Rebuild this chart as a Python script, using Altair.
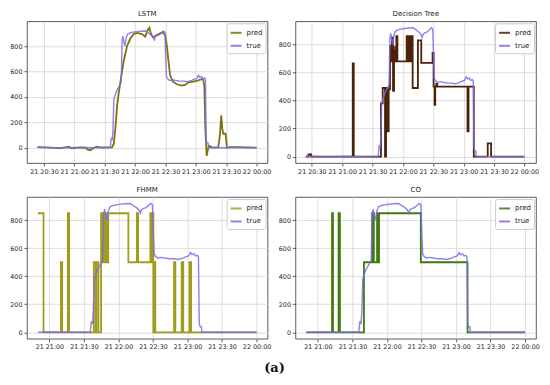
import altair as alt
import pandas as pd

BASE = pd.Timestamp("2020-01-21 20:00:00")  # times below are minutes after 21 20:00

# ---------------- ground truth (shared by all four panels) ----------------
true_m = [24, 38, 50, 62, 80, 95.5, 96.5, 97.5, 98.2, 99, 100.5, 102, 104, 105.5, 106.3,
          107.2, 108, 109, 110, 111, 112.5, 115, 118, 122, 126, 130, 132, 134.5, 136.5, 138,
          139, 140, 142, 144, 146, 148, 149.5, 150.3, 151, 152, 154, 157, 160, 164, 168,
          172, 176, 179, 181, 182.5, 184, 185.5, 187, 188.5, 189.5, 190.2, 191, 192, 192.5,
          200, 240]
true_v = [3, 0, 0, 2, 0, 0, 80, 60, 150, 380, 420, 450, 480, 500, 520,
          850, 880, 830, 800, 860, 895, 905, 910, 915, 918, 920, 910, 895, 885, 870,
          850, 875, 885, 890, 905, 920, 910, 700, 560, 545, 530, 535, 530, 525, 525,
          520, 530, 540, 545, 570, 555, 560, 545, 550, 540, 60, 40, 40, 0,
          0, 0]

# ---------------- LSTM prediction ----------------
lstm_m = [23.4, 36.6, 46.4, 54.6, 56.9, 66, 71, 73.3, 75.9, 79.2, 82.5, 85.8, 97.2, 98.9,
          100.5, 102.2, 103.8, 106.1, 108.7, 112, 115.3, 118.6, 121.8, 126.8, 130, 132, 134,
          135.6, 137.6, 139.9, 143.2, 147.1, 149.7, 151.4, 153, 154.6, 157.3, 161.2, 166.1,
          169.4, 172.7, 177.6, 182.5, 185.8, 187.4, 188.4, 189.4, 190.7, 192, 193.3, 195.6,
          198.9, 202.2, 203.8, 205.1, 206.1, 207.1, 209.4, 210.7, 213.7, 223.5, 240]
lstm_v = [5, 0, -3, 8, -5, 2, 0, -15, -20, 0, 8, 3, 3, 30,
          150, 330, 430, 550, 680, 800, 860, 895, 905, 895, 875, 920, 945,
          900, 870, 880, 895, 910, 890, 800, 680, 570, 520, 500, 490,
          495, 515, 520, 530, 540, 535, 480, 150, -65, -10, 15, 5,
          0, 5, 100, 255, 150, 110, 110, 0, 5, 5, 0]

# ---------------- Decision Tree prediction (step changes) ----------------
dt_m = [24.1, 26.7, 29.3, 70.4, 71.4, 98.3, 100, 102.3, 103.3, 104.9, 105.9, 107.2, 108.2,
        109.2, 110.2, 111.2, 112.2, 113.5, 114.5, 123.7, 125, 126, 127.3, 128.3, 129.6,
        134.8, 138.1, 149.3, 150.3, 151.3, 151.9, 152.9, 153.9, 183.8, 184.8, 190,
        203.8, 207.1, 240]
dt_v = [0, 15, 0, 665, 0, 380, 490, 0, 490, 180, 480, 790, 680,
        850, 470, 760, 680, 860, 680, 860, 680, 860, 680, 860, 490,
        830, 670, 740, 500, 370, 500, 520, 500, 180, 500, 0,
        95, 0, 0]
# dense flicker bands of the decision tree output
osc_start = [108.0, 123.7]
osc_end = [114.5, 129.4]
osc_low = [680, 680]
osc_high = [790, 860]

# ---------------- FHMM prediction (step changes) ----------------
fhmm_m = [50, 54.9, 70, 71.1, 76, 77.1, 98.6, 100.3, 100.9, 102.6, 104.9, 106.3, 107.1,
          108.3, 109.1, 110, 111.1, 128.6, 136, 137.1, 147.7, 148.9, 149.7, 150.3, 150.9,
          152, 168.3, 169.4, 174.9, 176.3, 181.7, 183.1, 240]
fhmm_v = [850, 0, 500, 0, 850, 0, 500, 0, 500, 0, 850, 500, 850,
          500, 850, 500, 850, 500, 850, 500, 850, 500, 850, 0, 500,
          0, 500, 0, 500, 0, 500, 0, 0]

# ---------------- CO prediction (step changes) ----------------
co_m = [50, 72.3, 73.1, 78, 79.1, 100, 107.1, 108.6, 111.4, 112.3, 113.1, 149.4, 190, 240]
co_v = [0, 850, 0, 850, 0, 500, 850, 500, 850, 500, 850, 500, 0, 0]

y_ticks = [0, 200, 400, 600, 800]
ticks_top = [30, 60, 90, 120, 150, 180, 210, 240]
ticks_bottom = [60, 90, 120, 150, 180, 210, 240]

TRUE_COLOR = "#7b68ee"


def to_dt(m):
    t = BASE + pd.Timedelta(minutes=m)
    return alt.DateTime(year=t.year, month=t.month, date=t.day,
                        hours=t.hour, minutes=t.minute, seconds=t.second)


def frame(ms, vs, name):
    return pd.DataFrame({
        "time": BASE + pd.to_timedelta(ms, unit="min"),
        "value": vs,
        "series": name,
    })


def panel(title, pm, pv, pcolor, interp, start, xdom, ydom, ticks, osc=False):
    tm = [m for m in true_m if m >= start]
    tv = [v for m, v in zip(true_m, true_v) if m >= start]
    pred_df = frame(pm, pv, "pred")
    true_df = frame(tm, tv, "true")

    x = alt.X("time:T",
              scale=alt.Scale(domain=[to_dt(xdom[0]), to_dt(xdom[1])]),
              axis=alt.Axis(values=[to_dt(t) for t in ticks], format="%d %H:%M",
                            title=None, labelFlush=False, labelOverlap=False))
    y = alt.Y("value:Q",
              scale=alt.Scale(domain=ydom, nice=False, zero=False),
              axis=alt.Axis(values=y_ticks, title=None))
    color = alt.Color("series:N",
                      scale=alt.Scale(domain=["pred", "true"], range=[pcolor, TRUE_COLOR]),
                      legend=alt.Legend(title=None, orient="top-right"))

    layers = []
    if osc:
        osc_df = pd.DataFrame({
            "time": BASE + pd.to_timedelta(osc_start, unit="min"),
            "time2": BASE + pd.to_timedelta(osc_end, unit="min"),
            "lo": osc_low,
            "hi": osc_high,
        })
        layers.append(
            alt.Chart(osc_df).mark_rect(color="#a10000", opacity=0.8).encode(
                x=x, x2="time2:T", y=alt.Y("lo:Q", scale=alt.Scale(domain=ydom, nice=False, zero=False),
                                          axis=alt.Axis(values=y_ticks, title=None)),
                y2="hi:Q")
        )
    layers.append(
        alt.Chart(pred_df).mark_line(interpolate=interp, strokeWidth=1.8).encode(
            x=x, y=y, color=color)
    )
    layers.append(
        alt.Chart(true_df).mark_line(strokeWidth=1.4, opacity=0.85).encode(
            x=x, y=y, color=color)
    )
    return alt.layer(*layers).properties(
        width=241, height=142,
        title=alt.TitleParams(title, fontSize=7, fontWeight="normal", color="#222", offset=4),
    )


lstm = panel("LSTM", lstm_m, lstm_v, "#7d7308", "linear", 24,
             (13.2, 250.8), [-121, 996], ticks_top)
dtree = panel("Decision Tree", dt_m, dt_v, "#4b2208", "step-after", 24,
              (13.8, 251.5), [-46, 966], ticks_top, osc=True)
fhmm = panel("FHMM", fhmm_m, fhmm_v, "#a09c1e", "step-after", 50,
             (40.5, 249.5), [-46, 966], ticks_bottom)
co = panel("CO", co_m, co_v, "#3f7a0c", "step-after", 50,
           (40.5, 249.5), [-46, 966], ticks_bottom)

top = alt.hconcat(lstm, dtree, spacing=6).resolve_scale(
    color="independent", x="independent", y="independent").resolve_legend(color="independent")
bottom = alt.hconcat(fhmm, co, spacing=6).resolve_scale(
    color="independent", x="independent", y="independent").resolve_legend(color="independent")

chart = alt.vconcat(top, bottom, spacing=10).resolve_scale(
    color="independent", x="independent", y="independent").resolve_legend(
    color="independent").properties(
    title=alt.TitleParams("(a)", orient="bottom", anchor="middle", font="DejaVu Serif",
                          fontSize=13, fontWeight="bold", color="#111", offset=12),
    padding={"left": 1, "top": 1, "right": 2, "bottom": 2},
).configure(
    font="DejaVu Sans",
).configure_view(
    stroke="#333", strokeWidth=0.8,
).configure_axis(
    domain=False, grid=True, gridColor="#d4d4d4", gridWidth=0.8,
    tickColor="#333", tickSize=3, tickWidth=0.8, labelPadding=2,
    labelFontSize=6.4, labelColor="#222", labelFont="DejaVu Sans",
).configure_legend(
    labelFontSize=7, labelColor="#222", symbolType="stroke", symbolStrokeWidth=2,
    symbolSize=120, padding=3, strokeColor="#cccccc", fillColor="white",
    cornerRadius=2, rowPadding=2, labelOffset=4, offset=2,
)

chart.save("out.html", embed_options={"renderer": "svg", "actions": False})
